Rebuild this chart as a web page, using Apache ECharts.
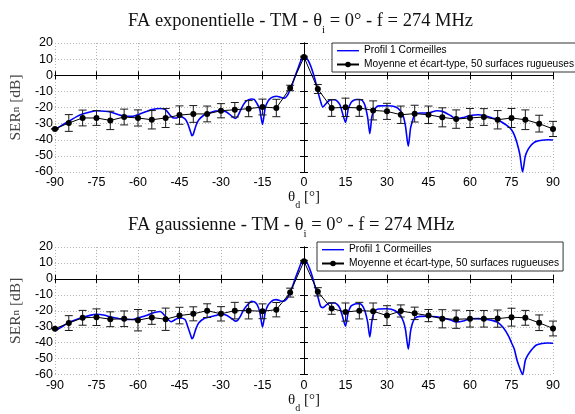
<!DOCTYPE html>
<html><head><meta charset="utf-8">
<script src="https://cdn.jsdelivr.net/npm/echarts@6/dist/echarts.min.js"></script>
<style>html,body{margin:0;padding:0;background:#fff}#c{width:575px;height:414px}</style>
</head><body><div id="c"></div><script>
// ---- data ----
const titles = ['FA exponentielle - TM - {t|θ}{s|i} = 0° - f = 274 MHz',
                'FA gaussienne - TM - {t|θ}{s|i} = 0° - f = 274 MHz'];
const legendNames = ['Profil 1 Cormeilles', 'Moyenne et écart-type, 50 surfaces rugueuses'];
const xTicks = [-90, -75, -60, -45, -30, -15, 0, 15, 30, 45, 60, 75, 90];
const yTicks = [-60, -50, -40, -30, -20, -10, 0, 10, 20];

const profilAngles = [
  -90,-87,-85,-82,-80,-77,-75,-72,-70,-67,
  -65,-62,-60,-57,-55,-52,-50,-48,-47,-46,
  -45,-43,-42,-41,-40.5,-40,-39,-38,-36,-35,
  -32,-30,-28,-26,-24.8,-24,-23,-22,-21,-20,
  -19,-18,-17,-16,-15,-14,-13,-12,-11,-10,
  -9,-8,-7,-6,-5,-4,-3,-2,-1,0,
  1,2,3,4,5,6,6.8,8,9,10,
  11,12,13,14,15,16,17,18,19,20,
  21,22,23,23.8,24.5,25,26,27,30,33,
  35,36,36.7,37.7,38.5,39,40,42,45,48,
  50,53,55,58,60,63,65,68,70,72,
  74,75,76,77,78,79,80,81,82,83,
  84,86,88,90];
const profilExpo = [
  -33.7,-30.5,-28.6,-25.5,-24,-22.6,-22,-22.3,-22.8,-24.5,
  -25.3,-25.5,-24.5,-22.5,-21.3,-20.6,-21.5,-25.5,-26.5,-26.5,
  -25.5,-27,-30,-35,-37.5,-36.5,-31,-27.6,-24.5,-23.8,
  -22.2,-22,-22.8,-25.5,-26.8,-25.5,-22,-18.5,-16.2,-15.2,
  -14.7,-15,-17.5,-21,-30.5,-20,-16,-14.2,-13.3,-13,
  -13.3,-14,-14.2,-12.5,-9,-4.5,0.5,5,9.5,11.7,
  10.5,7.5,3,-2.8,-10,-16.2,-19.7,-17.5,-15.8,-15.2,
  -15.2,-16,-18.3,-24,-29.2,-21,-17,-15.5,-15,-15,
  -15.5,-18.5,-26,-36.2,-26,-23,-20,-19,-18.9,-19.6,
  -22.4,-26,-31.7,-44,-33,-29.6,-24.5,-23.4,-23.4,-22,
  -22.4,-25,-27.1,-26,-25,-24.5,-25,-26.5,-27.6,-29.6,
  -32,-33.8,-37,-42,-49,-60,-50,-46,-43.5,-41.9,
  -41,-40.3,-40,-40.2];
const profilGauss = [
  -32.5,-29.5,-27.3,-25.3,-24.2,-22.7,-22.2,-22.8,-23.8,-24.8,
  -25.5,-25.5,-24.5,-23,-21.5,-20.4,-23.6,-26.9,-26,-25,
  -24.5,-25.5,-30,-35,-37.5,-36.5,-31,-27.5,-24.7,-24.2,
  -23,-21.9,-22.8,-25,-26.5,-26,-23.5,-20,-17.5,-15.5,
  -14.1,-14.3,-16,-20.5,-30.2,-21,-16.5,-14.5,-13.2,-13,
  -13.4,-14,-13.7,-12,-8.5,-4,1,5.5,10,11.7,
  10.5,6.6,1.5,-4.8,-11,-17.2,-18,-16.5,-15.3,-15.1,
  -15.1,-16,-18.5,-24,-29.6,-21,-17,-16,-15.6,-15.5,
  -16.5,-20,-27,-36.4,-27,-23,-19.5,-18.9,-18.7,-20,
  -23.4,-27,-32,-44,-33,-29,-24.8,-23.5,-23.4,-23.8,
  -24.4,-25.8,-27,-26.2,-25,-24.9,-25.1,-26,-27.3,-30.5,
  -36,-40,-44,-51,-56,-60,-51,-47.5,-45,-43,
  -41.5,-40.5,-40.2,-40.3];

const meanAngles = [-90,-85,-80,-75,-70,-65,-60,-55,-50,-45,-40,-35,-30,-25,-20,-15,-10,-5,
  0, 5,10,15,20,25,30,35,40,45,50,55,60,65,70,75,80,85,90];
const meanExpo = [-33.3,-29.6,-26.5,-26.5,-28,-25.9,-26.5,-27.6,-26.5,-24.7,-24,-24,-22,-21.4,-20.7,-19.7,-20.3,-7.9,
  11.3, -8.5,-20.3,-19.9,-20.3,-21.8,-22.4,-24.5,-23.8,-24.5,-26.1,-27.2,-26.5,-25.9,-27.6,-26.5,-27.6,-30,-33.3];
const stdExpo = [0,5.2,4.9,4.6,5.7,4.9,5,5.7,5.9,5.7,5.2,4.9,4.4,4.5,5,4.9,5.4,1.7,
  0.5, 2.8,5.2,5.7,5.2,5.9,5,5.4,5.2,5.4,5.9,5.7,5.9,5.2,5.7,5.9,6.1,5.2,4.7];
const meanGauss = [-31.2,-27.7,-24.4,-24,-25.3,-25,-25.9,-24.2,-25.3,-23,-21.9,-19.9,-21.9,-19.9,-19.9,-20.3,-19.3,-8.6,
  11.1, -8.1,-18.6,-20.8,-19.9,-20.3,-23,-20.1,-21.6,-23,-25,-25.3,-25,-25,-24.9,-24,-24.4,-27.5,-31.1];
const stdGauss = [0,4.65,4.65,5.2,4.65,4.9,6.7,4.3,7,5.2,4.4,4.3,4.5,5.2,5.2,4.65,4.5,2.8,
  0.5, 2.6,3.6,5.7,5.2,5.2,6.2,3.8,3.9,3.8,5.7,5.7,5.2,5.2,5.4,5.6,4.65,4.9,4.65];

// ---- chart ----
const SERIF = 'Liberation Serif';
const SANS = 'Liberation Sans';
const grids = [{top: 43, height: 129}, {top: 247, height: 129}];
const legendPos = [{left: 332, top: 43}, {left: 317, top: 242}];
const titleTops = [1, 205];
const profils = [profilExpo, profilGauss];
const means = [meanExpo, meanGauss];
const stds = [stdExpo, stdGauss];

function errRender(params, api) {
  const x = api.value(0);
  const p1 = api.coord([x, api.value(1)]);
  const p2 = api.coord([x, api.value(2)]);
  const w = 4;
  const style = {stroke: '#1a1a1a', lineWidth: 1};
  return {type: 'group', children: [
    {type: 'line', shape: {x1: p1[0], y1: p1[1], x2: p2[0], y2: p2[1]}, style},
    {type: 'line', shape: {x1: p1[0]-w, y1: p1[1], x2: p1[0]+w, y2: p1[1]}, style},
    {type: 'line', shape: {x1: p2[0]-w, y1: p2[1], x2: p2[0]+w, y2: p2[1]}, style}
  ]};
}

const option = {
  animation: false,
  backgroundColor: '#fff',
  title: titles.map((t, i) => ({
    text: t, left: 123, top: titleTops[i],
    textStyle: {fontFamily: SERIF, fontSize: 18.5, fontWeight: 'normal', color: '#111',
      rich: {
        t: {fontFamily: SERIF, fontSize: 18.5, color: '#111'},
        s: {fontFamily: SERIF, fontSize: 11, color: '#111', verticalAlign: 'bottom', lineHeight: 30}
      }}
  })),
  legend: legendPos.map(p => ({
    left: p.left, top: p.top, orient: 'vertical', selectedMode: false,
    itemWidth: 22, itemHeight: 7, itemGap: 3, padding: [2, 4, 2, 4],
    backgroundColor: '#fff', borderColor: '#333', borderWidth: 1, borderRadius: 0,
    textStyle: {fontFamily: SANS, fontSize: 10.2, color: '#000', lineHeight: 11},
    data: [
      {name: legendNames[0], icon: 'path://M0,0M0,3H22V4.4H0ZM22,7'},
      {name: legendNames[1]}
    ]
  })),
  grid: grids.map(g => ({left: 47, right: 22, top: g.top, height: g.height, containLabel: false})),
  xAxis: [],
  yAxis: [],
  series: []
};

grids.forEach((g, gi) => {
  option.xAxis.push({
    type: 'value', gridIndex: gi, min: -90, max: 90, interval: 15,
    axisLine: {show: true, lineStyle: {color: '#000', width: 1}},
    axisTick: {show: true, inside: true, length: 4, lineStyle: {color: '#000'}},
    axisLabel: {fontFamily: SANS, fontSize: 12.5, color: '#000', margin: 4},
    splitLine: {show: true, lineStyle: {color: '#b4b4b4', type: [1, 2], width: 1}},
    name: '{t|θ}{d|d} [°]', nameLocation: 'middle', nameGap: 6,
    nameTextStyle: {fontFamily: SERIF, fontSize: 15, color: '#111', verticalAlign: 'top',
      rich: {t: {fontFamily: SERIF, fontSize: 15, color: '#111'},
             d: {fontFamily: SERIF, fontSize: 10, color: '#111', verticalAlign: 'bottom', lineHeight: 26}}}
  });
  option.xAxis.push({
    type: 'value', gridIndex: gi, min: -90, max: 90, interval: 15, position: 'top',
    axisLine: {show: true, lineStyle: {color: '#000', width: 1}},
    axisTick: {show: true, inside: true, length: 4, lineStyle: {color: '#000'}},
    axisLabel: {show: false}, splitLine: {show: false}
  });
  option.yAxis.push({
    type: 'value', gridIndex: gi, min: -60, max: 20, interval: 10,
    axisLine: {show: true, lineStyle: {color: '#000', width: 1}},
    axisTick: {show: true, inside: true, length: 4, lineStyle: {color: '#000'}},
    axisLabel: {fontFamily: SANS, fontSize: 12.5, color: '#000', margin: 2},
    splitLine: {show: true, lineStyle: {color: '#b4b4b4', type: [1, 2], width: 1}},
    name: 'SER{n|n} [dB]', nameLocation: 'middle', nameGap: 26,
    nameTextStyle: {fontFamily: SERIF, fontSize: 15.5, color: '#444',
      rich: {n: {fontFamily: SERIF, fontSize: 11, color: '#444'}}}
  });
  option.yAxis.push({
    type: 'value', gridIndex: gi, min: -60, max: 20, interval: 10, position: 'right',
    axisLine: {show: true, lineStyle: {color: '#000', width: 1}},
    axisTick: {show: true, inside: true, length: 4, lineStyle: {color: '#000'}},
    axisLabel: {show: false}, splitLine: {show: false}
  });
  const xi = gi * 2, yi = gi * 2;
  option.series.push({
    name: legendNames[0], type: 'line', xAxisIndex: xi, yAxisIndex: yi,
    data: profilAngles.map((a, k) => [a, profils[gi][k]]),
    showSymbol: false, symbol: 'none', smooth: 0.25,
    lineStyle: {color: '#0000ff', width: 1.6}, itemStyle: {color: '#0000ff'}, z: 2
  });
  option.series.push({
    name: 'err' + gi, type: 'custom', xAxisIndex: xi, yAxisIndex: yi,
    data: meanAngles.map((a, k) => [a, means[gi][k] - stds[gi][k], means[gi][k] + stds[gi][k]]),
    renderItem: errRender, z: 3, silent: true
  });
  option.series.push({
    name: legendNames[1], type: 'line', xAxisIndex: xi, yAxisIndex: yi,
    data: meanAngles.map((a, k) => [a, means[gi][k]]),
    symbol: 'circle', symbolSize: 6, showSymbol: true,
    lineStyle: {color: '#000', width: 1}, itemStyle: {color: '#000'}, z: 4
  });
});

const chart = echarts.init(document.getElementById('c'), null, {renderer: 'canvas'});
chart.setOption(option);
</script></body></html>
